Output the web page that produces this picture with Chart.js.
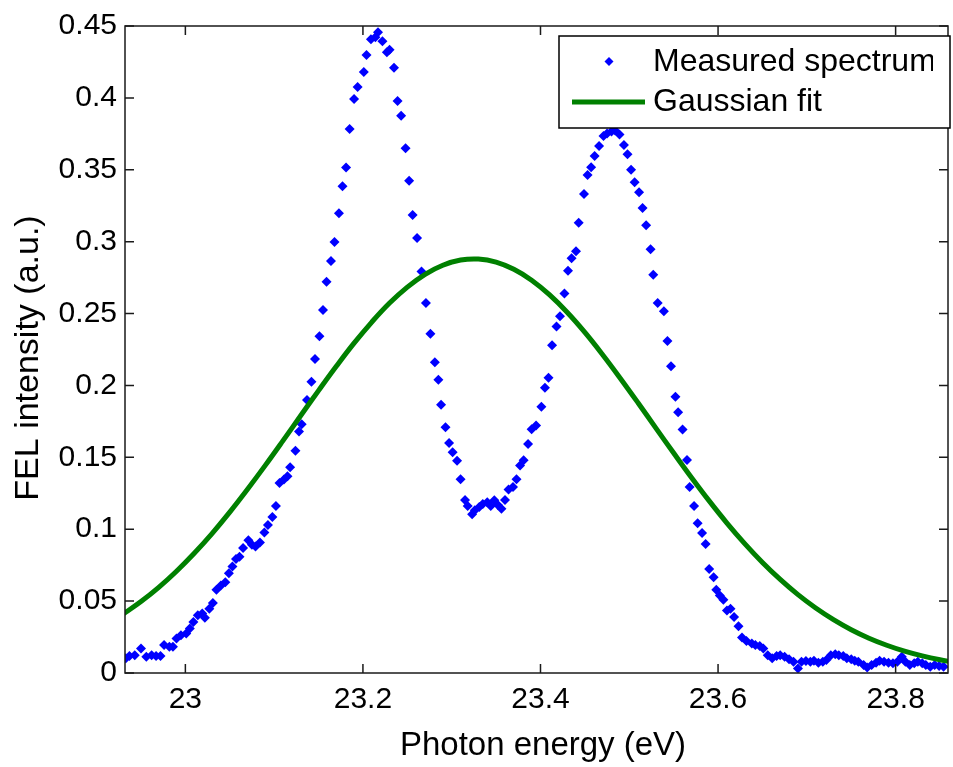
<!DOCTYPE html>
<html>
<head>
<meta charset="utf-8">
<script src="https://cdn.jsdelivr.net/npm/chart.js@4.4.0/dist/chart.umd.min.js"></script>
<style>
  body { margin: 0; background: #fff; }
  #wrap { width: 953px; height: 767px; }
</style>
</head>
<body>
<div id="wrap"><canvas id="graficoFel" width="953" height="767"></canvas></div>
<script>
// Measured spectrum (eV / a.u.)
const measuredEnergy = [
  22.933, 22.937, 22.943, 22.950, 22.956, 22.962, 22.967, 22.972, 22.976, 22.982,
  22.986, 22.990, 22.995, 23.001, 23.005, 23.009, 23.014, 23.019, 23.022, 23.027,
  23.031, 23.035, 23.040, 23.045, 23.049, 23.053, 23.057, 23.061, 23.065, 23.071,
  23.075, 23.079, 23.084, 23.089, 23.093, 23.098, 23.102, 23.106, 23.111, 23.115,
  23.118, 23.124, 23.128, 23.131, 23.137, 23.142, 23.146, 23.151, 23.155, 23.159,
  23.164, 23.168, 23.173, 23.177, 23.181, 23.185, 23.190, 23.194, 23.201, 23.204,
  23.209, 23.214, 23.217, 23.222, 23.227, 23.230, 23.235, 23.239, 23.243, 23.248,
  23.252, 23.256, 23.261, 23.266, 23.271, 23.276, 23.281, 23.285, 23.288, 23.293,
  23.297, 23.301, 23.306, 23.310, 23.315, 23.318, 23.323, 23.326, 23.331, 23.335,
  23.340, 23.344, 23.348, 23.352, 23.356, 23.360, 23.364, 23.369, 23.373, 23.377,
  23.381, 23.386, 23.390, 23.395, 23.401, 23.405, 23.409, 23.413, 23.418, 23.422,
  23.427, 23.431, 23.435, 23.440, 23.443, 23.449, 23.453, 23.457, 23.461, 23.466,
  23.471, 23.475, 23.480, 23.484, 23.489, 23.494, 23.498, 23.502, 23.506, 23.511,
  23.515, 23.519, 23.524, 23.527, 23.532, 23.539, 23.543, 23.547, 23.552, 23.555,
  23.560, 23.565, 23.568, 23.573, 23.577, 23.582, 23.586, 23.590, 23.595, 23.598,
  23.602, 23.606, 23.610, 23.614, 23.618, 23.623, 23.627, 23.632, 23.638, 23.642,
  23.647, 23.651, 23.656, 23.661, 23.666, 23.670, 23.675, 23.680, 23.685, 23.690,
  23.694, 23.699, 23.704, 23.708, 23.713, 23.718, 23.722, 23.727, 23.732, 23.736,
  23.741, 23.745, 23.750, 23.754, 23.758, 23.764, 23.768, 23.773, 23.778, 23.782,
  23.787, 23.792, 23.797, 23.802, 23.807, 23.811, 23.816, 23.821, 23.825, 23.830,
  23.834, 23.839, 23.844, 23.849, 23.854
];
const measuredIntensity = [
  0.0102, 0.0118, 0.0124, 0.0171, 0.0113, 0.0124, 0.0118, 0.0118, 0.0194, 0.0182,
  0.0182, 0.0240, 0.0263, 0.0274, 0.0309, 0.0355, 0.0401, 0.0413, 0.0385, 0.0447,
  0.0486, 0.0579, 0.0608, 0.0631, 0.0693, 0.0740, 0.0793, 0.0809, 0.0869, 0.0924,
  0.0892, 0.0880, 0.0908, 0.0977, 0.1030, 0.1085, 0.1161, 0.1322, 0.1346, 0.1369,
  0.1431, 0.1546, 0.1680, 0.1730, 0.1899, 0.2025, 0.2184, 0.2343, 0.2525, 0.2721,
  0.2866, 0.2998, 0.3198, 0.3385, 0.3516, 0.3783, 0.3993, 0.4076, 0.4180, 0.4299,
  0.4408, 0.4422, 0.4456, 0.4394, 0.4318, 0.4334, 0.4210, 0.3979, 0.3876, 0.3650,
  0.3424, 0.3185, 0.3026, 0.2793, 0.2573, 0.2359, 0.2161, 0.2039, 0.1866, 0.1709,
  0.1599, 0.1535, 0.1477, 0.1348, 0.1203, 0.1161, 0.1104, 0.1132, 0.1154, 0.1175,
  0.1187, 0.1161, 0.1201, 0.1168, 0.1143, 0.1203, 0.1277, 0.1293, 0.1348, 0.1443,
  0.1479, 0.1592, 0.1696, 0.1721, 0.1852, 0.1984, 0.2053, 0.2279, 0.2410, 0.2481,
  0.2640, 0.2797, 0.2885, 0.2933, 0.3131, 0.3332, 0.3463, 0.3518, 0.3596, 0.3666,
  0.3735, 0.3753, 0.3767, 0.3774, 0.3746, 0.3673, 0.3608, 0.3500, 0.3413, 0.3344,
  0.3235, 0.3115, 0.2947, 0.2770, 0.2573, 0.2516, 0.2309, 0.2134, 0.1922, 0.1813,
  0.1694, 0.1481, 0.1293, 0.1161, 0.1042, 0.0973, 0.0897, 0.0724, 0.0666, 0.0579,
  0.0539, 0.0509, 0.0435, 0.0447, 0.0389, 0.0325, 0.0247, 0.0223, 0.0205, 0.0194,
  0.0187, 0.0171, 0.0124, 0.0102, 0.0118, 0.0124, 0.0113, 0.0095, 0.0078, 0.0032,
  0.0078, 0.0083, 0.0078, 0.0085, 0.0071, 0.0078, 0.0090, 0.0124, 0.0131, 0.0124,
  0.0118, 0.0102, 0.0095, 0.0085, 0.0078, 0.0055, 0.0039, 0.0055, 0.0071, 0.0085,
  0.0078, 0.0071, 0.0067, 0.0078, 0.0113, 0.0078, 0.0055, 0.0067, 0.0078, 0.0067,
  0.0055, 0.0044, 0.0055, 0.0048, 0.0044
];

// Gaussian fit curve, every 0.02 eV
const fitEnergy = [
  22.93, 22.95, 22.97, 22.99, 23.01, 23.03, 23.05, 23.07, 23.09, 23.11,
  23.13, 23.15, 23.17, 23.19, 23.21, 23.23, 23.25, 23.27, 23.29, 23.31,
  23.33, 23.35, 23.37, 23.39, 23.41, 23.43, 23.45, 23.47, 23.49, 23.51,
  23.53, 23.55, 23.57, 23.59, 23.61, 23.63, 23.65, 23.67, 23.69, 23.71,
  23.73, 23.75, 23.77, 23.79, 23.81, 23.83, 23.85, 23.87
];
const fitIntensity = [
  0.0410, 0.0497, 0.0596, 0.0708, 0.0833, 0.0970, 0.1119, 0.1278, 0.1444, 0.1616,
  0.1791, 0.1964, 0.2133, 0.2294, 0.2441, 0.2573, 0.2684, 0.2773, 0.2836, 0.2872,
  0.2879, 0.2858, 0.2808, 0.2732, 0.2631, 0.2509, 0.2369, 0.2214, 0.2049, 0.1878,
  0.1703, 0.1530, 0.1360, 0.1197, 0.1043, 0.0900, 0.0769, 0.0651, 0.0545, 0.0452,
  0.0371, 0.0301, 0.0242, 0.0193, 0.0152, 0.0119, 0.0092, 0.0070
];

// Ticks
const xTickValues = [23, 23.2, 23.4, 23.6, 23.8];
const xTickLabels = ['23', '23.2', '23.4', '23.6', '23.8'];
const yTickValues = [0, 0.05, 0.1, 0.15, 0.2, 0.25, 0.3, 0.35, 0.4, 0.45];
const yTickLabels = ['0', '0.05', '0.1', '0.15', '0.2', '0.25', '0.3', '0.35', '0.4', '0.45'];

// Axis limits
const X_MIN = 22.932;
const X_MAX = 23.859;
const Y_MIN = 0;
const Y_MAX = 0.45;

const TAMANHO_TICK = 9; // inward ticks like matlab
const FONTE = 'Liberation Sans, Arial, Helvetica, sans-serif';
const COR_AZUL = '#0000ff';
const COR_VERDE = '#008000';

// Frame with inward ticks on all four sides
const molduraEixos = {
  id: 'molduraEixos',
  afterDatasetsDraw(chart) {
    const { ctx, chartArea: a, scales: { x, y } } = chart;
    ctx.save();
    ctx.strokeStyle = '#1a1a1a';
    ctx.lineWidth = 1.5;
    ctx.strokeRect(a.left, a.top, a.right - a.left, a.bottom - a.top);
    ctx.beginPath();
    xTickValues.forEach(function (v) {
      const px = x.getPixelForValue(v);
      ctx.moveTo(px, a.bottom);
      ctx.lineTo(px, a.bottom - TAMANHO_TICK);
      ctx.moveTo(px, a.top);
      ctx.lineTo(px, a.top + TAMANHO_TICK);
    });
    yTickValues.forEach(function (v) {
      const py = y.getPixelForValue(v);
      ctx.moveTo(a.left, py);
      ctx.lineTo(a.left + TAMANHO_TICK, py);
      ctx.moveTo(a.right, py);
      ctx.lineTo(a.right - TAMANHO_TICK, py);
    });
    ctx.stroke();
    ctx.restore();
  }
};

// Axis titles (drawn by hand so they sit where matlab put them)
const titulosEixos = {
  id: 'titulosEixos',
  afterDraw(chart) {
    const { ctx } = chart;
    ctx.save();
    ctx.fillStyle = '#000';
    ctx.font = '33px ' + FONTE;
    ctx.textAlign = 'center';
    ctx.textBaseline = 'alphabetic';
    ctx.fillText('Photon energy (eV)', 543, 755);
    ctx.translate(38, 358);
    ctx.rotate(-Math.PI / 2);
    ctx.font = '34px ' + FONTE;
    ctx.fillText('FEL intensity (a.u.)', 0, 0);
    ctx.restore();
  }
};

// Legend box in the top right corner, drawn over the data
const legendaCaixa = {
  id: 'legendaCaixa',
  afterDraw(chart) {
    const { ctx } = chart;
    const caixa = { left: 559, top: 36, right: 950, bottom: 128 };
    ctx.save();
    ctx.fillStyle = '#fff';
    ctx.fillRect(caixa.left, caixa.top, caixa.right - caixa.left, caixa.bottom - caixa.top);
    ctx.strokeStyle = '#000';
    ctx.lineWidth = 1.5;
    ctx.strokeRect(caixa.left, caixa.top, caixa.right - caixa.left, caixa.bottom - caixa.top);

    // blue diamond
    ctx.fillStyle = COR_AZUL;
    ctx.beginPath();
    ctx.moveTo(609, 57);
    ctx.lineTo(613.5, 61.5);
    ctx.lineTo(609, 66);
    ctx.lineTo(604.5, 61.5);
    ctx.closePath();
    ctx.fill();

    // green line
    ctx.strokeStyle = COR_VERDE;
    ctx.lineWidth = 5;
    ctx.beginPath();
    ctx.moveTo(572, 102);
    ctx.lineTo(645, 102);
    ctx.stroke();

    // texts, clipped at the box like in the original
    ctx.beginPath();
    ctx.rect(caixa.left, caixa.top, 933 - caixa.left, caixa.bottom - caixa.top);
    ctx.clip();
    ctx.fillStyle = '#000';
    ctx.font = '32px ' + FONTE;
    ctx.textBaseline = 'middle';
    ctx.textAlign = 'left';
    ctx.fillText(chart.data.datasets[1].label, 653, 62);
    ctx.fillText(chart.data.datasets[0].label, 653, 102);
    ctx.restore();
  }
};

const contexto = document.getElementById('graficoFel').getContext('2d');
const grafico = new Chart(contexto, {
  type: 'scatter',
  data: {
    datasets: [
      {
        label: 'Gaussian fit',
        type: 'line',
        data: fitEnergy.map(function (e, i) { return { x: e, y: fitIntensity[i] }; }),
        borderColor: COR_VERDE,
        borderWidth: 5,
        pointRadius: 0,
        tension: 0.4,
        fill: false,
        order: 1
      },
      {
        label: 'Measured spectrum',
        data: measuredEnergy.map(function (e, i) { return { x: e, y: measuredIntensity[i] }; }),
        pointStyle: 'rectRot',
        pointRadius: 5,
        pointBackgroundColor: COR_AZUL,
        pointBorderColor: COR_AZUL,
        pointBorderWidth: 0,
        showLine: false,
        order: 2
      }
    ]
  },
  options: {
    responsive: false,
    animation: false,
    devicePixelRatio: 1,
    layout: { padding: { top: 22, right: 1, left: 0, bottom: 0 } },
    plugins: {
      legend: { display: false },
      tooltip: { enabled: false }
    },
    scales: {
      x: {
        type: 'linear',
        min: X_MIN,
        max: X_MAX,
        grid: { display: false, drawTicks: false },
        border: { display: false },
        afterBuildTicks: function (s) { s.ticks = xTickValues.map(function (v) { return { value: v }; }); },
        afterFit: function (s) { s.height = 94; },
        ticks: {
          autoSkip: false,
          maxRotation: 0,
          padding: 9,
          color: '#000',
          font: { family: FONTE, size: 30 },
          callback: function (v) { return xTickLabels[xTickValues.indexOf(v)]; }
        }
      },
      y: {
        type: 'linear',
        min: Y_MIN,
        max: Y_MAX,
        grid: { display: false, drawTicks: false },
        border: { display: false },
        afterBuildTicks: function (s) { s.ticks = yTickValues.map(function (v) { return { value: v }; }); },
        afterFit: function (s) { s.width = 125; },
        ticks: {
          autoSkip: false,
          padding: 8,
          color: '#000',
          font: { family: FONTE, size: 30 },
          callback: function (v) { return yTickLabels[yTickValues.indexOf(v)]; }
        }
      }
    }
  },
  plugins: [molduraEixos, titulosEixos, legendaCaixa]
});
</script>
</body>
</html>
